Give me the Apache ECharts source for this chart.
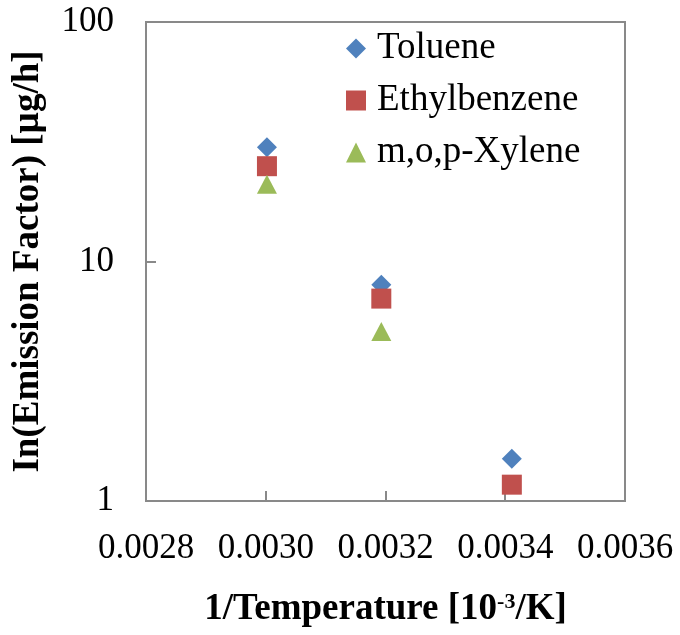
<!DOCTYPE html>
<html>
<head>
<meta charset="utf-8">
<script src="https://cdn.jsdelivr.net/npm/echarts@6/dist/echarts.min.js"></script>
<style>
  html, body { margin: 0; padding: 0; background: #fff; }
  #chart { width: 680px; height: 635px; }
</style>
</head>
<body>
<div id="chart"></div>
<script>
// Inverse temperature [1/K] of the three test conditions (60, 40 and 20 °C)
const invTemp = [0.003002, 0.003193, 0.003411];

// Emission factors [µg/h] per compound
const toluene      = [30, 8.0, 1.5];
const ethylbenzene = [25, 7.0, 1.17];
const xylene       = [21, 5.1, null];

const seriesNames = ['Toluene', 'Ethylbenzene', 'm,o,p-Xylene'];
const seriesData  = [toluene, ethylbenzene, xylene];
const seriesSymbols = ['diamond', 'rect', 'triangle'];
const seriesColors  = ['#4F81BD', '#C0504D', '#9BBB59'];

const xTicks = { min: 0.0028, max: 0.0036, step: 0.0002 };
const yTicks = { min: 1, max: 100 };

const FONT = '"Liberation Serif", "Times New Roman", serif';
const AXIS_GRAY = '#898989';

const chart = echarts.init(document.getElementById('chart'), null, { renderer: 'canvas' });

const series = seriesNames.map((name, i) => ({
  name: name,
  type: 'scatter',
  symbol: seriesSymbols[i],
  symbolSize: i === 2 ? [20, 19] : 20,
  itemStyle: { color: seriesColors[i], opacity: 1 },
  z: 3 + i,
  data: invTemp.map((x, k) => seriesData[i][k] == null ? null : [x, seriesData[i][k]]).filter(d => d)
}));

chart.setOption({
  animation: false,
  backgroundColor: '#ffffff',
  textStyle: { fontFamily: FONT },
  grid: {
    left: 146, top: 22, right: 55, bottom: 134,
    outerBoundsMode: 'none',
    containLabel: false,
    show: true, borderColor: AXIS_GRAY, borderWidth: 2
  },
  legend: {
    orient: 'vertical',
    left: 341, top: 25,
    itemWidth: 20, itemHeight: 20,
    itemGap: 15,
    data: seriesNames.map((n, i) => ({ name: n, icon: seriesSymbols[i] })),
    textStyle: {
      fontFamily: FONT, fontSize: 37, color: '#000', lineHeight: 37,
      padding: [0, 0, 0, 6]
    }
  },
  xAxis: {
    type: 'value',
    min: xTicks.min, max: xTicks.max, interval: xTicks.step,
    name: '1/Temperature [10{sup|-3}/K]',
    nameLocation: 'middle',
    nameGap: 90,
    nameTextStyle: {
      fontFamily: FONT, fontSize: 37, fontWeight: 'bold', color: '#000',
      rich: {
        sup: { fontFamily: FONT, fontSize: 22, fontWeight: 'bold', color: '#000', verticalAlign: 'top', padding: [0, 0, 15, 0] }
      }
    },
    axisLine: { show: true, lineStyle: { color: AXIS_GRAY, width: 2 } },
    axisTick: { show: true, inside: true, length: 10, lineStyle: { color: AXIS_GRAY, width: 2 } },
    axisLabel: {
      fontFamily: FONT, fontSize: 35, color: '#000', margin: 30,
      formatter: v => v.toFixed(4)
    },
    splitLine: { show: false }
  },
  yAxis: {
    type: 'log',
    logBase: 10,
    min: yTicks.min, max: yTicks.max,
    name: 'In(Emission Factor) [µg/h]',
    nameLocation: 'middle',
    nameRotate: 90,
    nameGap: 99,
    nameTextStyle: { fontFamily: FONT, fontSize: 37, fontWeight: 'bold', color: '#000' },
    axisLine: { show: true, lineStyle: { color: AXIS_GRAY, width: 2 } },
    axisTick: { show: true, inside: true, length: 10, lineStyle: { color: AXIS_GRAY, width: 2 } },
    minorTick: { show: false },
    axisLabel: { fontFamily: FONT, fontSize: 35, color: '#000', margin: 32 },
    splitLine: { show: false }
  },
  series: series
});
</script>
</body>
</html>
